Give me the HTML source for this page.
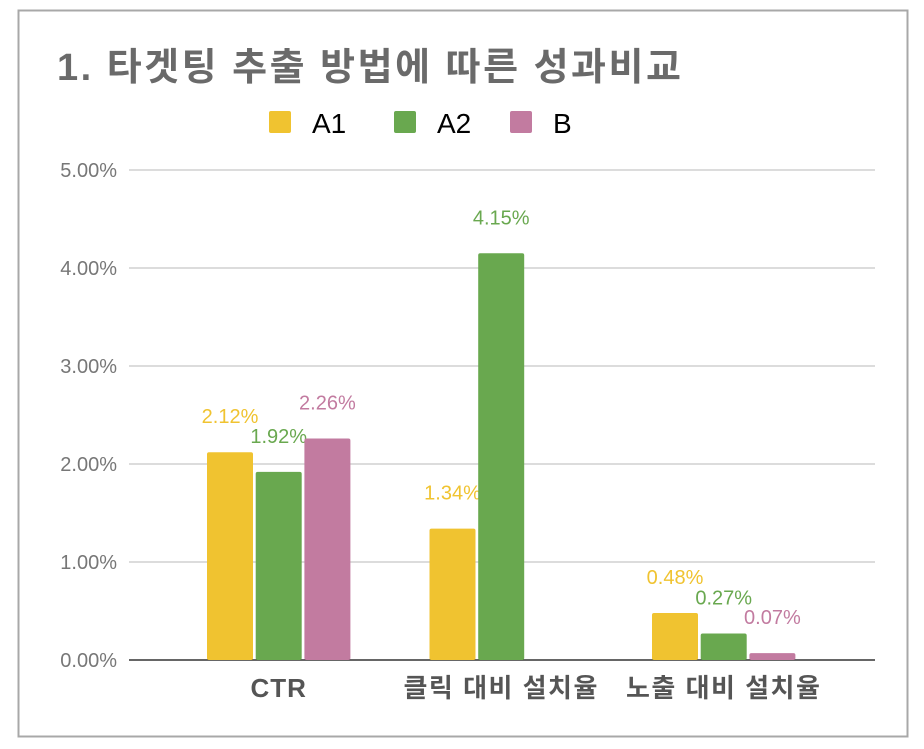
<!DOCTYPE html>
<html><head><meta charset="utf-8"><style>
body{margin:0;background:#fff;}
svg{display:block;font-family:"Liberation Sans","Noto Sans CJK KR",sans-serif;}
</style></head><body>
<svg width="924" height="749">
<rect x="18.5" y="10.5" width="889" height="726" fill="#fff" stroke="#a8a8a8" stroke-width="2"/>
<text x="57" y="80" font-size="38" font-weight="bold" letter-spacing="2.5" fill="#6a6a6a">1. 타겟팅 추출 방법에 따른 성과비교</text>
<g id="legend"></g>
<g id="grid"></g>
<g id="bars"></g>
<g id="xlabels"></g>
</svg>
<script>
const categories=["CTR","클릭 대비 설치율","노출 대비 설치율"];
const seriesNames=["A1","A2","B"];
const seriesA1=[2.12,1.34,0.48];
const seriesA2=[1.92,4.15,0.27];
const seriesB=[2.26,null,0.07];
const ticks=[0,1,2,3,4,5];
const tickLabels=["0.00%","1.00%","2.00%","3.00%","4.00%","5.00%"];
const colors=["#f0c330","#69a84f","#c27ba0"];
const NS="http://www.w3.org/2000/svg";
function mk(t,a,p){const e=document.createElementNS(NS,t);for(const k in a)e.setAttribute(k,a[k]);p.appendChild(e);return e;}
const y=v=>660-v*98;
const xBar=(i,j)=>207+i*222.5+j*48.7;
const grid=document.getElementById('grid');
ticks.forEach((t,i)=>{
  const l=mk('line',{x1:129,x2:875,y1:y(t),y2:y(t),stroke:t===0?'#333':'#dcdcdc','stroke-width':t===0?1.5:2},grid);
  
  
  const tx=mk('text',{x:117,y:y(t)+7,'text-anchor':'end','font-size':20,fill:'#777'},grid);
  
  
  tx.textContent=tickLabels[i];
});
const series=[seriesA1,seriesA2,seriesB];
const bars=document.getElementById('bars');
series.forEach((s,j)=>{s.forEach((v,i)=>{
  if(v===null)return;
  const r=mk('rect',{x:xBar(i,j),y:y(v),width:46,height:660-y(v),fill:colors[j],rx:2},bars);
  
  
  const lb=mk('text',{x:xBar(i,j)+23,y:y(v)-29,'text-anchor':'middle','font-size':20,fill:colors[j]},bars);
  
  
  lb.textContent=v.toFixed(2)+'%';
});});
const xl=document.getElementById('xlabels');
categories.forEach((c,i)=>{
  const t=mk('text',{x:xBar(i,1)+23,y:697,'text-anchor':'middle','font-size':26,'font-weight':'bold','letter-spacing':c.length>3?1.5:1,fill:'#555'},xl);
  
  
  t.textContent=c;
});
const lg=document.getElementById('legend');
const lx=[269,394,510];
seriesNames.forEach((n,j)=>{
  const r=mk('rect',{x:lx[j],y:111,width:22,height:22,fill:colors[j],rx:2},lg);
  
  
  const t=mk('text',{x:lx[j]+43,y:133,'font-size':28,fill:'#000'},lg);
  
  
  t.textContent=n;
});
</script>
</body></html>
